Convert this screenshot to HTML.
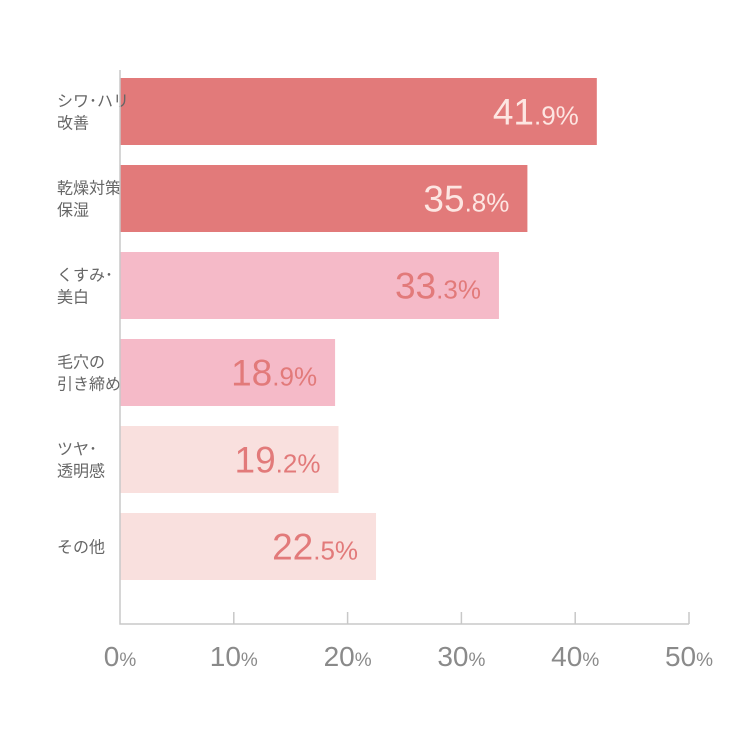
<!DOCTYPE html>
<html><head><meta charset="utf-8"><style>
html,body{margin:0;padding:0;background:#fff;}
svg{display:block;font-family:"Liberation Sans","Noto Sans CJK JP",sans-serif;}
</style></head><body>
<svg id="chart" width="750" height="750"></svg>
<script>
const categories=[["シワ･ハリ","改善"],["乾燥対策","保湿"],["くすみ･","美白"],["毛穴の","引き締め"],["ツヤ･","透明感"],["その他"]];
const values=[41.9,35.8,33.3,18.9,19.2,22.5];
const barColors=["#e27a7a","#e27a7a","#f5bac8","#f5bac8","#f9e0de","#f9e0de"];
const labelColors=["#fde6e2","#fde6e2","#e27a7a","#e27a7a","#e27a7a","#e27a7a"];
const ticks=[0,10,20,30,40,50];
const NS="http://www.w3.org/2000/svg";
const svg=document.getElementById('chart');
const x0=120,x1=689,max=50;
const xs=v=>x0+(x1-x0)*v/max;
const top0=78,pitch=87,bh=67;
const yb=i=>top0+i*pitch;
function mk(t,a,p){const e=document.createElementNS(NS,t);for(const k in a)e.setAttribute(k,a[k]);(p||svg).appendChild(e);return e;}
values.forEach((v,i)=>{
  const r=mk('rect',{x:x0,y:yb(i),width:xs(v)-x0,height:bh,fill:barColors[i]});
  
  
  const t=mk('text',{x:xs(v)-18,y:yb(i)+bh/2+13,'text-anchor':'end',fill:labelColors[i],'font-weight':'300'});
  
  
  const s=v.toFixed(1).split('.');
  const a=mk('tspan',{'font-size':'37'},t);a.textContent=s[0];
  const b=mk('tspan',{'font-size':'26'},t);b.textContent='.'+s[1]+'%';
  const c=categories[i];
  const lt=mk('text',{x:57,fill:'#666','font-size':'16'});
  
  
  const cy=yb(i)+bh/2;
  c.forEach((line,j)=>{const sp=mk('tspan',{x:57,y:cy+6+(j-(c.length-1)/2)*22},lt);sp.textContent=line;});
});
const ax=mk('path',{d:`M${x0} 70V624H${x1}`,stroke:'#c8c8c8','stroke-width':'1.5',fill:'none'});


ticks.forEach((v,i)=>{
  if(v>0){const tk=mk('line',{x1:xs(v),x2:xs(v),y1:612,y2:624,stroke:'#c8c8c8','stroke-width':'1.5'});
  
  }
  const t=mk('text',{x:xs(v),y:666,'text-anchor':'middle',fill:'#8a8a8a','font-weight':'300'});
  
  
  const a=mk('tspan',{'font-size':'28'},t);a.textContent=v;
  const b=mk('tspan',{'font-size':'19'},t);b.textContent='%';
});
</script>
</body></html>
